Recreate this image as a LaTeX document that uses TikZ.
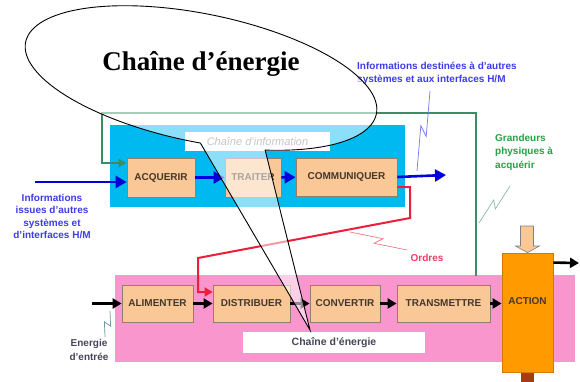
\documentclass[tikz,border=0pt]{standalone}
\usepackage{fontspec}
\setmainfont{Liberation Serif}
\setsansfont{Liberation Sans}
\usetikzlibrary{arrows.meta,calc}
\definecolor{cyanbg}{RGB}{0,185,240}
\definecolor{pinkbg}{RGB}{248,150,205}
\definecolor{peach}{RGB}{250,200,150}
\definecolor{boxline}{RGB}{150,125,110}
\definecolor{actorange}{RGB}{255,155,0}
\definecolor{actline}{RGB}{215,120,0}
\definecolor{grline}{RGB}{60,140,100}
\definecolor{grtext}{RGB}{40,160,70}
\definecolor{blarrow}{RGB}{0,0,220}
\definecolor{bltext}{RGB}{60,60,235}
\definecolor{redl}{RGB}{235,30,60}
\definecolor{redt}{RGB}{235,60,100}
\definecolor{brownbar}{RGB}{165,60,20}
\definecolor{txtdark}{RGB}{70,55,40}
\definecolor{lbltxt}{RGB}{70,70,90}
\definecolor{zapgray}{RGB}{110,150,160}
\newcommand\zapline[3]{\draw[#3] (#1) -- ($(#1)!0.56!(#2)!3.5pt!90:(#2)$) -- ($(#1)!0.44!(#2)!3.5pt!-90:(#2)$) -- (#2);}
\begin{document}
\begin{tikzpicture}[x=1pt,y=-1pt,
  fnbox/.style={draw=boxline, fill=peach, line width=0.8pt, inner sep=0pt,
    font=\sffamily\bfseries\fontsize{10}{12}\selectfont, text=txtdark},
  blarr/.style={draw=blarrow, line width=2.6pt, -{Triangle[length=11pt,width=12pt]}},
  earr/.style={draw=black, line width=2.6pt, -{Triangle[length=9pt,width=10pt]}},
  bluelbl/.style={font=\sffamily\bfseries\fontsize{10}{13}\selectfont, text=bltext, inner sep=0pt},
  greenlbl/.style={font=\sffamily\bfseries\fontsize{10}{13.5}\selectfont, text=grtext, inner sep=0pt, align=left},
  zapthin/.style={line width=0.7pt}
]
\useasboundingbox (0,0) rectangle (580,382);
\fill[white] (0,0) rectangle (580,382);

% background zones
\fill[cyanbg] (110,125) rectangle (405,207);
\fill[pinkbg] (115,275) rectangle (575,362);

% chain labels
\node[fill=white, minimum width=145pt, minimum height=19pt, inner sep=0pt,
  font=\sffamily\itshape\fontsize{11}{12}\selectfont, text=gray] (lblinfo) at (257.5,142) {Chaîne d’information};
\node[fill=white, minimum width=182pt, minimum height=21pt, inner sep=0pt,
  font=\sffamily\bfseries\fontsize{10.5}{12}\selectfont, text=lbltxt] (lblener) at (334,342.5) {Chaîne d’énergie};

% information chain
\node[fnbox, minimum width=68pt, minimum height=39pt] (acq) at (161,177.5) {ACQUERIR};
\node[fnbox, minimum width=56pt, minimum height=39pt] (trait) at (253,177.5) {TRAITER};
\node[fnbox, minimum width=101pt, minimum height=38pt] (comm) at (346.5,177) {COMMUNIQUER};

% energy chain
\node[fnbox, minimum width=71pt, minimum height=37pt] (alim) at (157.5,303.5) {ALIMENTER};
\node[fnbox, minimum width=77pt, minimum height=37pt] (dist) at (251.5,303.5) {DISTRIBUER};
\node[fnbox, minimum width=70pt, minimum height=37pt] (conv) at (345,303.5) {CONVERTIR};
\node[fnbox, minimum width=93pt, minimum height=37pt] (trans) at (443.5,303.5) {TRANSMETTRE};
\node[draw=actline, fill=actorange, line width=0.8pt, minimum width=51pt, minimum height=119pt, inner sep=0pt] (action) at (527.5,312.5) {};
\node[font=\sffamily\bfseries\fontsize{10}{12}\selectfont, text=txtdark, inner sep=0pt] (actlbl) at (527.5,301) {ACTION};

% block arrow above ACTION and bar below
\draw[draw=gray, fill=peach, line width=0.6pt] (520.5,226) -- (533.5,226) -- (533.5,246) -- (539.5,246) -- (action.north) -- (515.5,246) -- (520.5,246) -- cycle;
\fill[brownbar] (521,372.5) rectangle (534,382);

% coordinates
\coordinate (gstart) at (476,276);
\coordinate (bin) at (35,182);
\coordinate (bout) at (446,175);
\coordinate (ein) at (92,303.5);
\coordinate (aout) at (579,263);
\coordinate (tip) at (310,330);

% green feedback line
\draw[grline, line width=2pt, -{Triangle[length=8pt,width=8pt]}] (gstart) -- (476,113) -- (102,113) |- ($(acq.west)+(0,-14.5)$);

% blue arrows
\draw[blarr] (bin) -- ($(acq.west)+(0,4.5)$);
\draw[blarr] (acq) -- (trait);
\draw[blarr] (trait) -- (comm);
\draw[blarr] (comm.east) -- (bout);

% red orders line
\draw[redl, line width=2pt, -{Triangle[length=8pt,width=9pt]}] ($(comm.east)+(0,10)$) -- (410,187) -- (410,218) -- (198,258) |- ($(dist.west)+(0,-11.5)$);

% energy arrows
\draw[earr] (ein) -- (alim);
\draw[earr] (alim) -- (dist);
\draw[earr] (dist) -- (conv);
\draw[earr] (conv) -- (trans);
\draw[earr] (trans.east) -- (action.west |- trans.east);
\draw[earr] ($(action.north east)+(0,10)$) -- (aout);

% labels
\node[bluelbl, anchor=north west, align=left] (lblout) at (357,62) {Informations destinées à d’autres\\systèmes et aux interfaces H/M};
\node[bluelbl, align=center, font=\sffamily\bfseries\fontsize{10}{12.5}\selectfont] (lblin) at (52,216.5) {Informations\\issues d’autres\\systèmes et\\d’interfaces H/M};
\node[greenlbl, anchor=north west] (lblgr) at (495,134) {Grandeurs\\physiques à\\acquérir};
\node[font=\sffamily\bfseries\fontsize{10}{12}\selectfont, text=redt, inner sep=0pt] (lblord) at (427,258) {Ordres};
\node[font=\sffamily\bfseries\fontsize{10}{14}\selectfont, text=lbltxt, align=center, inner sep=0pt] (lblein) at (89,350) {Energie\\d’entrée};

% lightning connectors
\coordinate (zb1) at (430,91);  \coordinate (zb2) at (417,171);
\coordinate (zg1) at (510,186); \coordinate (zg2) at (479,223);
\coordinate (zr1) at (350,232); \coordinate (zr2) at (407,250);
\coordinate (ze1) at (110,311); \coordinate (ze2) at (105,337);
\zapline{zb1}{zb2}{zapthin, draw=bltext!70}
\zapline{zg1}{zg2}{zapthin, draw=grline!60}
\zapline{zr1}{zr2}{zapthin, draw=redl!60}
\zapline{ze1}{ze2}{zapthin, draw=zapgray}

% callout
\begin{scope}[shift={(201,78)}, rotate=-11.6]
  \filldraw[fill=white, fill opacity=0.55, draw=black, line width=0.9pt]
    (64.4:179 and 64) arc[start angle=64.4, end angle=-274, x radius=179, y radius=64] -- (tip) -- cycle;
\end{scope}
\node[font=\rmfamily\bfseries\fontsize{27}{27}\selectfont, inner sep=0pt] (calltext) at (201,64) {Chaîne d’énergie};
\end{tikzpicture}
\end{document}
